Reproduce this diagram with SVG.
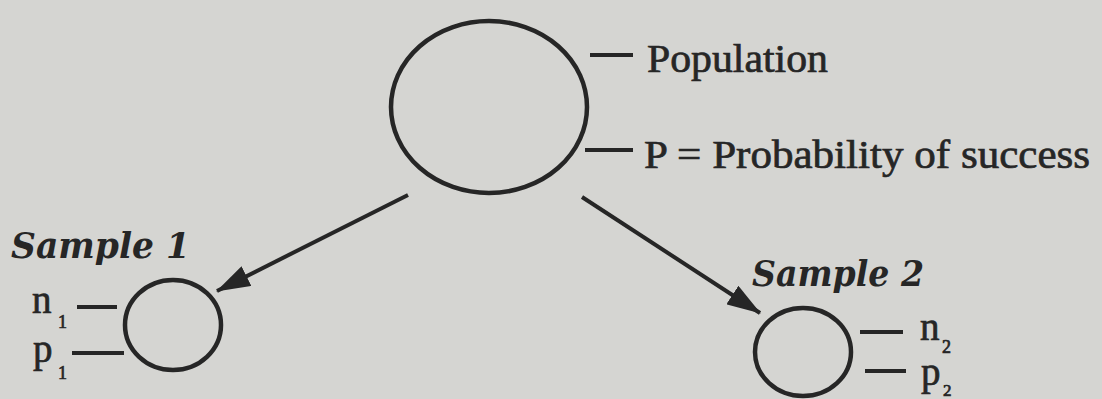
<svg xmlns="http://www.w3.org/2000/svg" width="1102" height="399" viewBox="0 0 1102 399">
<defs>
<style>
.ln{stroke:#262626;fill:none;stroke-width:4}
.circ{stroke:#262626;fill:none;stroke-width:4.5}
.t{font-family:"Liberation Serif","Times New Roman",serif;fill:#262626;stroke:#262626;stroke-width:0.7}
.s{font-family:"DejaVu Serif","Liberation Serif",serif;font-weight:bold;font-style:italic;fill:#262626}
</style>
<marker id="ah" viewBox="0 0 34 22" refX="33" refY="11" markerWidth="34" markerHeight="22" markerUnits="userSpaceOnUse" orient="auto">
<path d="M0,0 L34,11 L0,22 Z" fill="#262626"/>
</marker>
</defs>
<rect width="1102" height="399" fill="#d5d5d2"/>
<g id="connectors">
<line class="ln" x1="408" y1="195" x2="217" y2="291" marker-end="url(#ah)"/>
<line class="ln" x1="582" y1="197" x2="760" y2="313" marker-end="url(#ah)"/>
</g>
<g id="population">
<ellipse class="circ" cx="489" cy="107" rx="98" ry="86"/>
<line class="ln" x1="590" y1="55" x2="633" y2="55"/>
<text class="t" x="647" y="72" font-size="41" textLength="181" lengthAdjust="spacingAndGlyphs">Population</text>
<line class="ln" x1="585" y1="150" x2="633" y2="150"/>
<text class="t" x="644" y="168" font-size="41" textLength="446" lengthAdjust="spacingAndGlyphs">P = Probability of success</text>
</g>
<g id="sample1">
<text class="s" x="11" y="258" font-size="35" textLength="179" lengthAdjust="spacingAndGlyphs">Sample 1</text>
<ellipse class="circ" cx="173" cy="325" rx="48" ry="45"/>
<text class="t" x="32" y="313" font-size="39">n</text>
<text class="t" x="58" y="328" font-size="18">1</text>
<line class="ln" x1="77" y1="307" x2="117" y2="307"/>
<text class="t" x="33" y="362" font-size="39">p</text>
<text class="t" x="58" y="379" font-size="18">1</text>
<line class="ln" x1="72" y1="353" x2="124" y2="353"/>
</g>
<g id="sample2">
<text class="s" x="752" y="286" font-size="35" textLength="172" lengthAdjust="spacingAndGlyphs">Sample 2</text>
<ellipse class="circ" cx="803" cy="352" rx="48" ry="44"/>
<line class="ln" x1="860" y1="332" x2="903" y2="332"/>
<text class="t" x="920" y="340" font-size="39">n</text>
<text class="t" x="942" y="353" font-size="18">2</text>
<line class="ln" x1="865" y1="371" x2="906" y2="371"/>
<text class="t" x="921" y="385" font-size="39">p</text>
<text class="t" x="943" y="396" font-size="17">2</text>
</g>
</svg>
